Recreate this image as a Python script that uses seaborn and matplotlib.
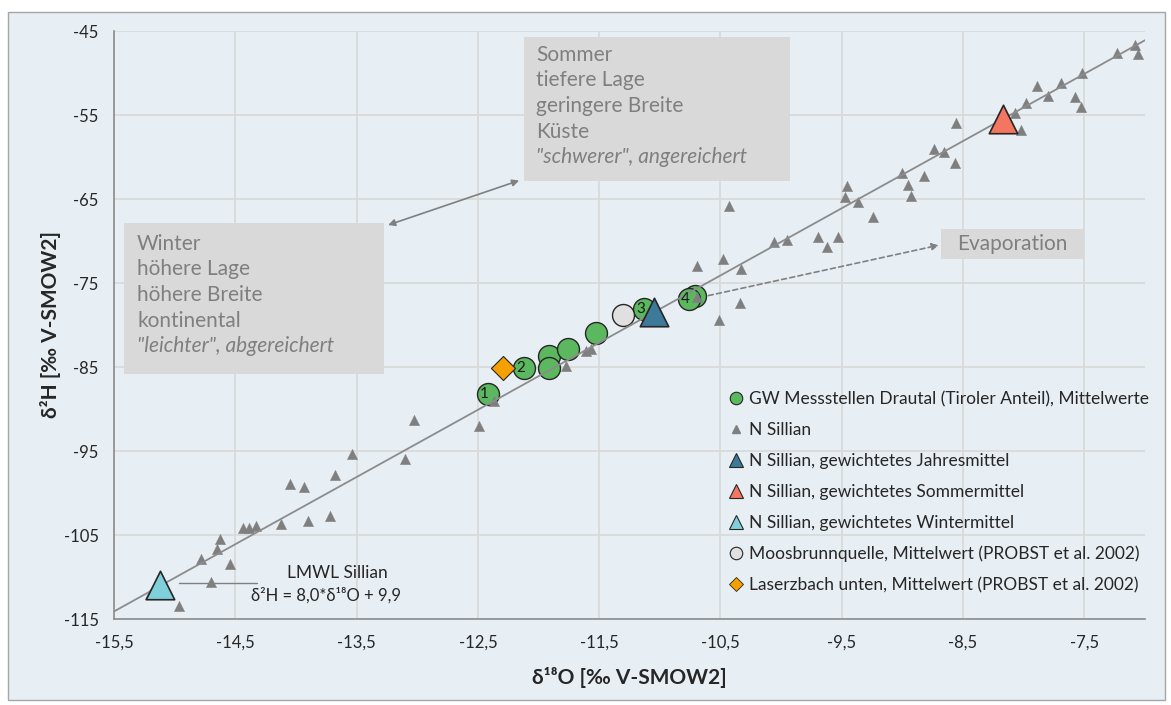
import numpy as np
import matplotlib
matplotlib.use("Agg")
import matplotlib.pyplot as plt
import seaborn as sns
from matplotlib.patches import Rectangle
from matplotlib.lines import Line2D

# --- data -------------------------------------------------------------
# precipitation samples, station Sillian
sillian_o18 = [-15.20, -14.96, -14.70, -14.54, -14.78, -14.65, -14.63, -14.44,
               -14.39, -14.33, -14.12, -13.90, -13.72, -14.05, -13.93, -13.68,
               -13.54, -13.10, -13.03, -12.49, -12.37, -11.77, -11.61, -11.57,
               -10.69, -10.51, -10.34, -10.69, -10.48, -10.33, -10.43, -10.06,
               -9.95, -9.70, -9.53, -9.62, -9.24, -9.37, -9.47, -9.46,
               -9.00, -8.95, -8.93, -8.82, -8.74, -8.66, -8.57, -8.56,
               -8.07, -8.02, -7.98, -7.89, -7.80, -7.69, -7.58, -7.53,
               -7.52, -7.23, -7.08, -7.06]
sillian_h2 = [-112.0, -113.5, -110.6, -108.4, -107.9, -106.7, -105.5, -104.2,
              -104.2, -103.9, -103.7, -103.3, -102.7, -98.9, -99.3, -97.9,
              -95.4, -96.0, -91.3, -92.0, -89.1, -84.9, -83.1, -82.9,
              -76.7, -79.4, -77.4, -73.0, -72.1, -73.3, -65.8, -70.1,
              -69.9, -69.5, -69.5, -70.7, -67.1, -65.3, -64.8, -63.5,
              -61.9, -63.3, -64.7, -62.3, -59.1, -59.4, -60.7, -56.0,
              -54.8, -56.8, -53.6, -51.6, -52.7, -51.2, -52.9, -54.0,
              -50.0, -47.6, -46.7, -47.7]

# groundwater monitoring wells, mean values
gw_o18 = [-12.42, -12.12, -11.91, -11.91, -11.76, -11.53, -11.13, -10.71, -10.76]
gw_h2 = [-88.2, -85.1, -83.7, -85.1, -82.9, -80.9, -78.1, -76.5, -76.9]
gw_labels = ["1", "2", "", "", "", "", "3", "", "4"]

# weighted means of precipitation
annual_mean = (-11.05, -78.5)
summer_mean = (-8.17, -55.5)
winter_mean = (-15.12, -111.0)

# springs / creeks (PROBST et al. 2002)
moosbrunn = (-11.30, -78.8)
laserzbach = (-12.29, -85.1)

# local meteoric water line
lmwl_slope = 8.0
lmwl_intercept = 9.9
lmwl_x = [-15.5, -7.0]

x_ticks = [-15.5, -14.5, -13.5, -12.5, -11.5, -10.5, -9.5, -8.5, -7.5]
y_ticks = [-115, -105, -95, -85, -75, -65, -55, -45]

legend_labels = [
    "GW Messstellen Drautal (Tiroler Anteil), Mittelwerte",
    "N Sillian",
    "N Sillian, gewichtetes Jahresmittel",
    "N Sillian, gewichtetes Sommermittel",
    "N Sillian, gewichtetes Wintermittel",
    "Moosbrunnquelle, Mittelwert (PROBST et al. 2002)",
    "Laserzbach unten, Mittelwert (PROBST et al. 2002)",
]

summer_lines = ["Sommer", "tiefere Lage", "geringere Breite", "Küste"]
summer_italic = "\"schwerer\", angereichert"
winter_lines = ["Winter", "höhere Lage", "höhere Breite", "kontinental"]
winter_italic = "\"leichter\", abgereichert"

# --- style ------------------------------------------------------------
sns.set_style("white")
plt.rcParams["font.family"] = ["Lato", "DejaVu Sans"]

BG = "#e7eef4"
GRID = "#d9d9d9"
AXIS = "#8c8c8c"
TXT_GRAY = "#7f7f7f"
BOX = "#d9d9d9"
GREEN = "#5cb85f"
GRAY_TRI = "#7f7f7f"
BLUE = "#3d7a9a"
SALMON = "#f47560"
CYAN = "#7fd0db"
LIGHT = "#e0e0e0"
ORANGE = "#f5a000"
EDGE = "#262626"

fig = plt.figure(figsize=(11.71, 7.05), dpi=100)
fig.patch.set_facecolor("white")
fig.patches.append(Rectangle((8 / 1171, 5 / 705), 1157 / 1171, 688 / 705,
                             transform=fig.transFigure, facecolor=BG,
                             edgecolor="#a6a6a6", linewidth=1.0, zorder=-10))

ax = fig.add_axes([114 / 1171, 1 - 619 / 705, (1145 - 114) / 1171, (619 - 31) / 705])
ax.set_facecolor(BG)

# --- marks ------------------------------------------------------------
sns.scatterplot(x=gw_o18, y=gw_h2, ax=ax, marker="o", s=250, color=GREEN,
                edgecolor=EDGE, linewidth=1.0, zorder=3, legend=False)
sns.scatterplot(x=[moosbrunn[0]], y=[moosbrunn[1]], ax=ax, marker="o", s=250,
                color=LIGHT, edgecolor=EDGE, linewidth=1.0, zorder=3, legend=False)
sns.scatterplot(x=[laserzbach[0]], y=[laserzbach[1]], ax=ax, marker="D", s=150,
                color=ORANGE, edgecolor=EDGE, linewidth=0.8, zorder=3, legend=False)
sns.scatterplot(x=sillian_o18, y=sillian_h2, ax=ax, marker="^", s=55,
                color=GRAY_TRI, edgecolor=GRAY_TRI, linewidth=0.3, zorder=4, legend=False)

lmwl_y = [lmwl_slope * v + lmwl_intercept for v in lmwl_x]
sns.lineplot(x=lmwl_x, y=lmwl_y, ax=ax, color="#8c8c8c", linewidth=1.3, zorder=5)

for pt, col in [(annual_mean, BLUE), (summer_mean, SALMON), (winter_mean, CYAN)]:
    sns.scatterplot(x=[pt[0]], y=[pt[1]], ax=ax, marker="^", s=420, color=col,
                    edgecolor=EDGE, linewidth=1.2, zorder=6, legend=False)

for xo, yo, lab in zip(gw_o18, gw_h2, gw_labels):
    if lab:
        ax.text(xo - 0.03, yo, lab, ha="center", va="center", fontsize=11,
                color="#1a1a1a", zorder=7)

# --- axes -------------------------------------------------------------
ax.set_xlim(-15.5, -7.0)
ax.set_ylim(-115, -45)
ax.set_xticks(x_ticks)
ax.set_yticks(y_ticks)
ax.set_xticklabels([f"{v:.1f}".replace(".", ",") for v in x_ticks])
ax.set_yticklabels([str(v) for v in y_ticks])
ax.tick_params(axis="both", direction="out", length=5, width=1, color=AXIS,
               labelsize=12, labelcolor="#262626", pad=6)
ax.grid(True, color=GRID, linewidth=1.3, zorder=0)
ax.set_axisbelow(True)
for side in ["top", "right"]:
    ax.spines[side].set_visible(False)
for side in ["left", "bottom"]:
    ax.spines[side].set_color(AXIS)
    ax.spines[side].set_linewidth(1.2)

ax.set_xlabel("δ¹⁸O [‰ V-SMOW2]", fontsize=15, fontweight="bold",
              color="#262626", labelpad=12)
ax.set_ylabel("δ²H [‰ V-SMOW2]", fontsize=15, fontweight="bold",
              color="#262626", labelpad=2)

# --- annotation boxes ---------------------------------------------------
ax.add_patch(Rectangle((-12.12, -62.8), 2.19, 17.1, facecolor=BOX,
                       edgecolor="none", zorder=2))
ax.add_patch(Rectangle((-15.42, -85.8), 2.15, 18.0, facecolor=BOX,
                       edgecolor="none", zorder=2))
ax.add_patch(Rectangle((-8.68, -72.1), 1.18, 3.5, facecolor=BOX,
                       edgecolor="none", zorder=2))

step = 3.06
for i, line in enumerate(summer_lines + [summer_italic]):
    ax.text(-12.02, -47.8 - i * step, line, ha="left", va="center",
            fontsize=15, color=TXT_GRAY, zorder=7,
            style="italic" if i == 4 else "normal")
for i, line in enumerate(winter_lines + [winter_italic]):
    ax.text(-15.31, -70.3 - i * step, line, ha="left", va="center",
            fontsize=15, color=TXT_GRAY, zorder=7,
            style="italic" if i == 4 else "normal")
ax.text(-8.09, -70.35, "Evaporation", ha="center", va="center", fontsize=15,
        color=TXT_GRAY, zorder=7)

ax.annotate("", xy=(-13.24, -68.1), xytext=(-12.16, -62.8),
            arrowprops=dict(arrowstyle="<|-|>", color="#808080", lw=1.2,
                            mutation_scale=10, shrinkA=0, shrinkB=0), zorder=7)
ax.annotate("", xy=(-8.70, -70.5), xytext=(-10.60, -76.5),
            arrowprops=dict(arrowstyle="-|>", color="#808080", lw=1.2,
                            linestyle=(0, (3, 2)), mutation_scale=10,
                            shrinkA=0, shrinkB=0), zorder=7)

# LMWL label
ax.plot([-14.96, -14.32], [-110.7, -110.7], color="#808080", lw=1.0, zorder=5)
ax.text(-13.66, -109.5, "LMWL Sillian", ha="center", va="center", fontsize=12.5,
        color="#262626", zorder=7)
ax.text(-13.75, -112.2, "δ²H = 8,0*δ¹⁸O + 9,9", ha="center", va="center",
        fontsize=12, color="#262626", zorder=7)

# --- legend -------------------------------------------------------------
handles = [
    Line2D([], [], linestyle="none", marker="o", markersize=9, markerfacecolor=GREEN,
           markeredgecolor=EDGE, markeredgewidth=0.8),
    Line2D([], [], linestyle="none", marker="^", markersize=6, markerfacecolor=GRAY_TRI,
           markeredgecolor=GRAY_TRI),
    Line2D([], [], linestyle="none", marker="^", markersize=10, markerfacecolor=BLUE,
           markeredgecolor=EDGE, markeredgewidth=0.8),
    Line2D([], [], linestyle="none", marker="^", markersize=10, markerfacecolor=SALMON,
           markeredgecolor=EDGE, markeredgewidth=0.8),
    Line2D([], [], linestyle="none", marker="^", markersize=10, markerfacecolor=CYAN,
           markeredgecolor=EDGE, markeredgewidth=0.8),
    Line2D([], [], linestyle="none", marker="o", markersize=9, markerfacecolor=LIGHT,
           markeredgecolor=EDGE, markeredgewidth=0.8),
    Line2D([], [], linestyle="none", marker="D", markersize=7, markerfacecolor=ORANGE,
           markeredgecolor=EDGE, markeredgewidth=0.6),
]
leg = fig.legend(handles, legend_labels, loc="upper left",
                 bbox_to_anchor=(722 / 1171, 1 - 384 / 705), frameon=False,
                 fontsize=12.5, labelspacing=0.86, handlelength=0.8,
                 handletextpad=0.35, borderaxespad=0)
for t in leg.get_texts():
    t.set_color("#262626")

fig.savefig("out.png", dpi=100, facecolor="white")
